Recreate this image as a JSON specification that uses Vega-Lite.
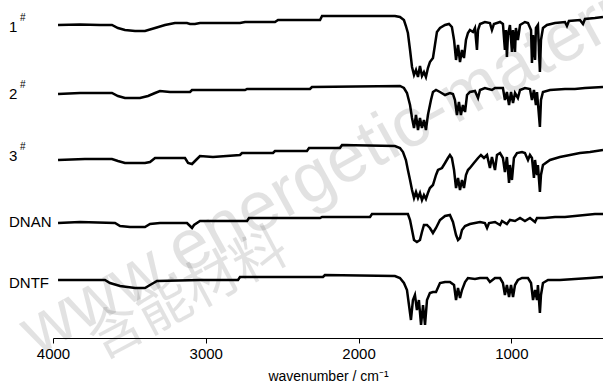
{
  "$schema": "https://vega.github.io/schema/vega-lite/v6.json",
  "width": 550,
  "height": 338,
  "autosize": {"type": "none"},
  "padding": {"left": 53, "top": 0, "right": 0, "bottom": 54},
  "background": "white",
  "config": {"view": {"stroke": null}, "font": "Liberation Sans"},
  "datasets": {
    "spectra": [
      {"s":"1#","w":3967,"t":313},{"s":"1#","w":3823,"t":313.5},{"s":"1#","w":3692,"t":313},{"s":"1#","w":3614,"t":313},{"s":"1#","w":3575,"t":310},{"s":"1#","w":3529,"t":308},{"s":"1#","w":3463,"t":307},{"s":"1#","w":3398,"t":307},{"s":"1#","w":3332,"t":310},{"s":"1#","w":3267,"t":313},{"s":"1#","w":3202,"t":315},{"s":"1#","w":3123,"t":315},{"s":"1#","w":3103,"t":314},{"s":"1#","w":3071,"t":314},{"s":"1#","w":3038,"t":315},{"s":"1#","w":2776,"t":315},{"s":"1#","w":2743,"t":316},{"s":"1#","w":2547,"t":316},{"s":"1#","w":2527,"t":318},{"s":"1#","w":2252,"t":318},{"s":"1#","w":2239,"t":322},{"s":"1#","w":1762,"t":322},{"s":"1#","w":1729,"t":321},{"s":"1#","w":1703,"t":318},{"s":"1#","w":1690,"t":312},{"s":"1#","w":1677,"t":305},{"s":"1#","w":1663,"t":288},{"s":"1#","w":1650,"t":271},{"s":"1#","w":1637,"t":263},{"s":"1#","w":1624,"t":268},{"s":"1#","w":1611,"t":261},{"s":"1#","w":1598,"t":272},{"s":"1#","w":1585,"t":262},{"s":"1#","w":1572,"t":266},{"s":"1#","w":1559,"t":261},{"s":"1#","w":1546,"t":270},{"s":"1#","w":1533,"t":276},{"s":"1#","w":1513,"t":280},{"s":"1#","w":1500,"t":293},{"s":"1#","w":1487,"t":306},{"s":"1#","w":1467,"t":310},{"s":"1#","w":1434,"t":313},{"s":"1#","w":1408,"t":314},{"s":"1#","w":1389,"t":311},{"s":"1#","w":1375,"t":298},{"s":"1#","w":1362,"t":278},{"s":"1#","w":1349,"t":293},{"s":"1#","w":1336,"t":276},{"s":"1#","w":1323,"t":288},{"s":"1#","w":1310,"t":280},{"s":"1#","w":1297,"t":298},{"s":"1#","w":1284,"t":305},{"s":"1#","w":1271,"t":308},{"s":"1#","w":1251,"t":306},{"s":"1#","w":1238,"t":310},{"s":"1#","w":1225,"t":288},{"s":"1#","w":1218,"t":308},{"s":"1#","w":1205,"t":314},{"s":"1#","w":1173,"t":316},{"s":"1#","w":1140,"t":315},{"s":"1#","w":1127,"t":308},{"s":"1#","w":1114,"t":314},{"s":"1#","w":1074,"t":316},{"s":"1#","w":1055,"t":314},{"s":"1#","w":1042,"t":288},{"s":"1#","w":1035,"t":308},{"s":"1#","w":1029,"t":281},{"s":"1#","w":1022,"t":303},{"s":"1#","w":1009,"t":313},{"s":"1#","w":996,"t":286},{"s":"1#","w":989,"t":308},{"s":"1#","w":976,"t":286},{"s":"1#","w":970,"t":310},{"s":"1#","w":957,"t":298},{"s":"1#","w":943,"t":313},{"s":"1#","w":911,"t":316},{"s":"1#","w":891,"t":315},{"s":"1#","w":871,"t":308},{"s":"1#","w":865,"t":275},{"s":"1#","w":858,"t":303},{"s":"1#","w":845,"t":278},{"s":"1#","w":839,"t":310},{"s":"1#","w":826,"t":313},{"s":"1#","w":813,"t":266},{"s":"1#","w":806,"t":298},{"s":"1#","w":793,"t":310},{"s":"1#","w":767,"t":313},{"s":"1#","w":714,"t":315},{"s":"1#","w":649,"t":316},{"s":"1#","w":636,"t":312},{"s":"1#","w":623,"t":317},{"s":"1#","w":551,"t":318},{"s":"1#","w":531,"t":314},{"s":"1#","w":518,"t":319},{"s":"1#","w":453,"t":320},{"s":"1#","w":400,"t":321},

      {"s":"2#","w":3967,"t":244},{"s":"2#","w":3823,"t":245},{"s":"2#","w":3614,"t":245},{"s":"2#","w":3575,"t":242},{"s":"2#","w":3529,"t":240},{"s":"2#","w":3431,"t":240},{"s":"2#","w":3378,"t":242},{"s":"2#","w":3332,"t":245},{"s":"2#","w":3300,"t":247},{"s":"2#","w":3234,"t":246},{"s":"2#","w":3103,"t":246},{"s":"2#","w":3090,"t":248},{"s":"2#","w":2743,"t":248},{"s":"2#","w":2730,"t":249},{"s":"2#","w":2318,"t":249},{"s":"2#","w":2305,"t":251},{"s":"2#","w":1729,"t":252},{"s":"2#","w":1703,"t":250},{"s":"2#","w":1683,"t":245},{"s":"2#","w":1663,"t":233},{"s":"2#","w":1650,"t":220},{"s":"2#","w":1637,"t":210},{"s":"2#","w":1624,"t":223},{"s":"2#","w":1611,"t":208},{"s":"2#","w":1598,"t":220},{"s":"2#","w":1585,"t":210},{"s":"2#","w":1572,"t":218},{"s":"2#","w":1559,"t":208},{"s":"2#","w":1546,"t":223},{"s":"2#","w":1526,"t":238},{"s":"2#","w":1513,"t":246},{"s":"2#","w":1493,"t":248},{"s":"2#","w":1467,"t":246},{"s":"2#","w":1434,"t":243},{"s":"2#","w":1402,"t":245},{"s":"2#","w":1382,"t":244},{"s":"2#","w":1369,"t":238},{"s":"2#","w":1356,"t":223},{"s":"2#","w":1343,"t":236},{"s":"2#","w":1330,"t":223},{"s":"2#","w":1317,"t":233},{"s":"2#","w":1303,"t":226},{"s":"2#","w":1290,"t":243},{"s":"2#","w":1271,"t":246},{"s":"2#","w":1238,"t":247},{"s":"2#","w":1218,"t":240},{"s":"2#","w":1205,"t":248},{"s":"2#","w":1173,"t":250},{"s":"2#","w":1127,"t":248},{"s":"2#","w":1107,"t":250},{"s":"2#","w":1055,"t":250},{"s":"2#","w":1042,"t":238},{"s":"2#","w":1029,"t":246},{"s":"2#","w":1015,"t":233},{"s":"2#","w":1002,"t":246},{"s":"2#","w":989,"t":235},{"s":"2#","w":976,"t":245},{"s":"2#","w":957,"t":240},{"s":"2#","w":943,"t":248},{"s":"2#","w":911,"t":250},{"s":"2#","w":878,"t":249},{"s":"2#","w":865,"t":238},{"s":"2#","w":852,"t":248},{"s":"2#","w":839,"t":233},{"s":"2#","w":832,"t":246},{"s":"2#","w":813,"t":211},{"s":"2#","w":806,"t":238},{"s":"2#","w":793,"t":246},{"s":"2#","w":747,"t":248},{"s":"2#","w":649,"t":249},{"s":"2#","w":584,"t":249},{"s":"2#","w":518,"t":250},{"s":"2#","w":400,"t":251},

      {"s":"3#","w":3967,"t":178},{"s":"3#","w":3791,"t":179},{"s":"3#","w":3614,"t":179},{"s":"3#","w":3575,"t":177},{"s":"3#","w":3529,"t":175},{"s":"3#","w":3398,"t":175},{"s":"3#","w":3365,"t":176},{"s":"3#","w":3332,"t":180},{"s":"3#","w":3136,"t":180},{"s":"3#","w":3116,"t":175},{"s":"3#","w":3090,"t":174},{"s":"3#","w":3064,"t":178},{"s":"3#","w":3038,"t":182},{"s":"3#","w":2953,"t":181},{"s":"3#","w":2776,"t":183},{"s":"3#","w":2763,"t":185},{"s":"3#","w":2560,"t":185},{"s":"3#","w":2547,"t":187},{"s":"3#","w":2338,"t":187},{"s":"3#","w":2324,"t":190},{"s":"3#","w":2122,"t":190},{"s":"3#","w":2108,"t":193},{"s":"3#","w":1762,"t":192},{"s":"3#","w":1729,"t":190},{"s":"3#","w":1709,"t":186},{"s":"3#","w":1690,"t":178},{"s":"3#","w":1677,"t":168},{"s":"3#","w":1663,"t":158},{"s":"3#","w":1650,"t":148},{"s":"3#","w":1637,"t":140},{"s":"3#","w":1624,"t":146},{"s":"3#","w":1611,"t":140},{"s":"3#","w":1598,"t":145},{"s":"3#","w":1585,"t":138},{"s":"3#","w":1572,"t":143},{"s":"3#","w":1559,"t":139},{"s":"3#","w":1546,"t":145},{"s":"3#","w":1533,"t":150},{"s":"3#","w":1513,"t":153},{"s":"3#","w":1493,"t":163},{"s":"3#","w":1480,"t":168},{"s":"3#","w":1454,"t":170},{"s":"3#","w":1434,"t":175},{"s":"3#","w":1415,"t":180},{"s":"3#","w":1402,"t":183},{"s":"3#","w":1389,"t":180},{"s":"3#","w":1375,"t":168},{"s":"3#","w":1362,"t":150},{"s":"3#","w":1349,"t":160},{"s":"3#","w":1336,"t":148},{"s":"3#","w":1323,"t":158},{"s":"3#","w":1310,"t":150},{"s":"3#","w":1297,"t":163},{"s":"3#","w":1284,"t":168},{"s":"3#","w":1271,"t":170},{"s":"3#","w":1245,"t":175},{"s":"3#","w":1218,"t":180},{"s":"3#","w":1199,"t":183},{"s":"3#","w":1179,"t":180},{"s":"3#","w":1159,"t":183},{"s":"3#","w":1140,"t":170},{"s":"3#","w":1127,"t":181},{"s":"3#","w":1107,"t":168},{"s":"3#","w":1094,"t":183},{"s":"3#","w":1074,"t":185},{"s":"3#","w":1055,"t":180},{"s":"3#","w":1042,"t":166},{"s":"3#","w":1029,"t":181},{"s":"3#","w":1015,"t":155},{"s":"3#","w":1009,"t":173},{"s":"3#","w":996,"t":158},{"s":"3#","w":983,"t":180},{"s":"3#","w":963,"t":185},{"s":"3#","w":930,"t":186},{"s":"3#","w":911,"t":185},{"s":"3#","w":891,"t":178},{"s":"3#","w":878,"t":183},{"s":"3#","w":865,"t":180},{"s":"3#","w":852,"t":160},{"s":"3#","w":845,"t":178},{"s":"3#","w":832,"t":163},{"s":"3#","w":826,"t":173},{"s":"3#","w":813,"t":146},{"s":"3#","w":806,"t":163},{"s":"3#","w":793,"t":173},{"s":"3#","w":747,"t":178},{"s":"3#","w":682,"t":181},{"s":"3#","w":616,"t":183},{"s":"3#","w":551,"t":185},{"s":"3#","w":485,"t":186},{"s":"3#","w":400,"t":188},

      {"s":"DNAN","w":3967,"t":115},{"s":"DNAN","w":3823,"t":116},{"s":"DNAN","w":3594,"t":115},{"s":"DNAN","w":3561,"t":112},{"s":"DNAN","w":3496,"t":111},{"s":"DNAN","w":3398,"t":111},{"s":"DNAN","w":3365,"t":114},{"s":"DNAN","w":3300,"t":115},{"s":"DNAN","w":3123,"t":115},{"s":"DNAN","w":3103,"t":112},{"s":"DNAN","w":3090,"t":110},{"s":"DNAN","w":3077,"t":113},{"s":"DNAN","w":3038,"t":117},{"s":"DNAN","w":2730,"t":117},{"s":"DNAN","w":2717,"t":120},{"s":"DNAN","w":2252,"t":120},{"s":"DNAN","w":2239,"t":121},{"s":"DNAN","w":1925,"t":121},{"s":"DNAN","w":1912,"t":124},{"s":"DNAN","w":1677,"t":124},{"s":"DNAN","w":1663,"t":118},{"s":"DNAN","w":1650,"t":108},{"s":"DNAN","w":1637,"t":98},{"s":"DNAN","w":1618,"t":96},{"s":"DNAN","w":1598,"t":98},{"s":"DNAN","w":1585,"t":106},{"s":"DNAN","w":1572,"t":113},{"s":"DNAN","w":1552,"t":113},{"s":"DNAN","w":1533,"t":110},{"s":"DNAN","w":1513,"t":105},{"s":"DNAN","w":1493,"t":110},{"s":"DNAN","w":1467,"t":118},{"s":"DNAN","w":1434,"t":122},{"s":"DNAN","w":1402,"t":123},{"s":"DNAN","w":1382,"t":116},{"s":"DNAN","w":1362,"t":103},{"s":"DNAN","w":1349,"t":98},{"s":"DNAN","w":1336,"t":100},{"s":"DNAN","w":1323,"t":108},{"s":"DNAN","w":1303,"t":112},{"s":"DNAN","w":1271,"t":114},{"s":"DNAN","w":1238,"t":115},{"s":"DNAN","w":1205,"t":116},{"s":"DNAN","w":1173,"t":115},{"s":"DNAN","w":1159,"t":110},{"s":"DNAN","w":1146,"t":115},{"s":"DNAN","w":1107,"t":116},{"s":"DNAN","w":1074,"t":113},{"s":"DNAN","w":1061,"t":117},{"s":"DNAN","w":1029,"t":114},{"s":"DNAN","w":1009,"t":118},{"s":"DNAN","w":976,"t":117},{"s":"DNAN","w":943,"t":120},{"s":"DNAN","w":911,"t":117},{"s":"DNAN","w":878,"t":120},{"s":"DNAN","w":845,"t":116},{"s":"DNAN","w":832,"t":120},{"s":"DNAN","w":780,"t":120},{"s":"DNAN","w":714,"t":121},{"s":"DNAN","w":649,"t":121},{"s":"DNAN","w":584,"t":122},{"s":"DNAN","w":518,"t":123},{"s":"DNAN","w":453,"t":124},{"s":"DNAN","w":400,"t":124},

      {"s":"DNTF","w":3967,"t":58},{"s":"DNTF","w":3823,"t":58},{"s":"DNTF","w":3660,"t":58},{"s":"DNTF","w":3627,"t":55},{"s":"DNTF","w":3561,"t":52},{"s":"DNTF","w":3463,"t":50},{"s":"DNTF","w":3398,"t":50},{"s":"DNTF","w":3365,"t":53},{"s":"DNTF","w":3319,"t":57},{"s":"DNTF","w":3038,"t":58},{"s":"DNTF","w":2789,"t":58},{"s":"DNTF","w":2776,"t":61},{"s":"DNTF","w":2233,"t":61},{"s":"DNTF","w":2220,"t":63},{"s":"DNTF","w":1762,"t":62},{"s":"DNTF","w":1729,"t":60},{"s":"DNTF","w":1703,"t":55},{"s":"DNTF","w":1683,"t":48},{"s":"DNTF","w":1670,"t":33},{"s":"DNTF","w":1657,"t":18},{"s":"DNTF","w":1644,"t":38},{"s":"DNTF","w":1631,"t":43},{"s":"DNTF","w":1618,"t":28},{"s":"DNTF","w":1605,"t":38},{"s":"DNTF","w":1591,"t":13},{"s":"DNTF","w":1578,"t":33},{"s":"DNTF","w":1565,"t":13},{"s":"DNTF","w":1552,"t":38},{"s":"DNTF","w":1533,"t":45},{"s":"DNTF","w":1513,"t":46},{"s":"DNTF","w":1493,"t":46},{"s":"DNTF","w":1467,"t":55},{"s":"DNTF","w":1434,"t":56},{"s":"DNTF","w":1402,"t":56},{"s":"DNTF","w":1375,"t":53},{"s":"DNTF","w":1362,"t":38},{"s":"DNTF","w":1349,"t":50},{"s":"DNTF","w":1336,"t":40},{"s":"DNTF","w":1323,"t":48},{"s":"DNTF","w":1303,"t":56},{"s":"DNTF","w":1284,"t":60},{"s":"DNTF","w":1238,"t":59},{"s":"DNTF","w":1205,"t":60},{"s":"DNTF","w":1159,"t":60},{"s":"DNTF","w":1140,"t":56},{"s":"DNTF","w":1107,"t":60},{"s":"DNTF","w":1074,"t":60},{"s":"DNTF","w":1055,"t":55},{"s":"DNTF","w":1042,"t":43},{"s":"DNTF","w":1029,"t":53},{"s":"DNTF","w":1015,"t":41},{"s":"DNTF","w":1002,"t":53},{"s":"DNTF","w":989,"t":41},{"s":"DNTF","w":976,"t":53},{"s":"DNTF","w":957,"t":58},{"s":"DNTF","w":930,"t":60},{"s":"DNTF","w":891,"t":60},{"s":"DNTF","w":871,"t":55},{"s":"DNTF","w":858,"t":38},{"s":"DNTF","w":845,"t":48},{"s":"DNTF","w":832,"t":38},{"s":"DNTF","w":826,"t":53},{"s":"DNTF","w":813,"t":25},{"s":"DNTF","w":806,"t":43},{"s":"DNTF","w":793,"t":55},{"s":"DNTF","w":760,"t":58},{"s":"DNTF","w":682,"t":58},{"s":"DNTF","w":584,"t":59},{"s":"DNTF","w":485,"t":60},{"s":"DNTF","w":400,"t":61}
    ],
    "labels": [
      {"label":"1","t":311},{"label":"2","t":244},{"label":"3","t":182},{"label":"DNAN","t":116},{"label":"DNTF","t":55}
    ],
    "sups": [
      {"label":"#","t":320},{"label":"#","t":253},{"label":"#","t":191}
    ],
    "wm1": [{"txt": "www.energetic-materials"}],
    "wm2": [{"txt": "含能材料"}]
  },
  "layer": [
    {
      "data": {"name": "spectra"},
      "mark": {"type": "line", "color": "black", "strokeWidth": 2.5, "strokeJoin": "miter", "strokeCap": "butt"},
      "encoding": {
        "x": {"field": "w", "type": "quantitative",
              "scale": {"domain": [4000, 400], "nice": false, "zero": false},
              "axis": {"values": [4000, 3000, 2000, 1000], "format": "d", "title": "wavenumber / cm⁻¹", "grid": false,
                       "domainColor": "black", "tickColor": "black", "tickSize": 5, "domainWidth": 1, "tickWidth": 1,
                       "labelFont": "Liberation Sans", "labelFontSize": 15, "labelColor": "black", "labelPadding": 3,
                       "titleFont": "Liberation Sans", "titleFontSize": 14, "titleFontWeight": "normal", "titleColor": "black", "titlePadding": 8,
                       "labelFlush": false}},
        "y": {"field": "t", "type": "quantitative", "scale": {"domain": [0, 338], "nice": false, "zero": false}, "axis": null},
        "detail": {"field": "s", "type": "nominal"}
      }
    },
    {
      "data": {"name": "wm1"},
      "mark": {"type": "text", "align": "left", "baseline": "alphabetic", "angle": -29, "fontSize": 70, "color": "black", "opacity": 0.11, "font": "Liberation Sans", "dx": -23, "dy": 8},
      "encoding": {"x": {"datum": 4000, "type": "quantitative"}, "y": {"datum": 0, "type": "quantitative"}, "text": {"field": "txt", "type": "nominal"}}
    },
    {
      "data": {"name": "wm2"},
      "mark": {"type": "text", "align": "left", "baseline": "alphabetic", "angle": -28, "fontSize": 54, "color": "black", "opacity": 0.11, "font": "Noto Sans CJK SC", "dx": 32, "dy": 42},
      "encoding": {"x": {"datum": 4000, "type": "quantitative"}, "y": {"datum": 0, "type": "quantitative"}, "text": {"field": "txt", "type": "nominal"}}
    },
    {
      "data": {"name": "labels"},
      "mark": {"type": "text", "align": "left", "baseline": "middle", "fontSize": 15, "font": "Liberation Sans", "color": "black", "dx": -44},
      "encoding": {"x": {"datum": 4000, "type": "quantitative"}, "y": {"field": "t", "type": "quantitative"}, "text": {"field": "label", "type": "nominal"}}
    },
    {
      "data": {"name": "sups"},
      "mark": {"type": "text", "align": "left", "baseline": "middle", "fontSize": 10, "font": "Liberation Sans", "color": "black", "dx": -33},
      "encoding": {"x": {"datum": 4000, "type": "quantitative"}, "y": {"field": "t", "type": "quantitative"}, "text": {"field": "label", "type": "nominal"}}
    }
  ]
}
